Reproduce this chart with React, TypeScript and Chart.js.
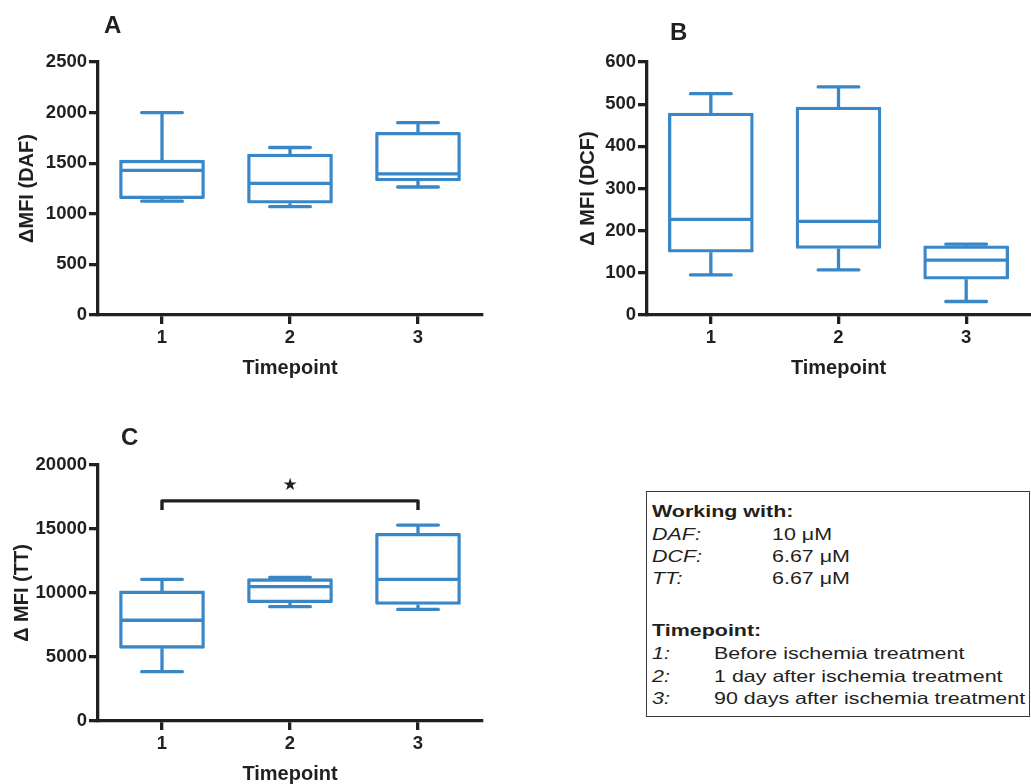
import React, { useEffect, useRef } from 'react';
import { Chart, registerables } from 'chart.js';

Chart.register(...registerables);

const FONT = "Arial, 'Liberation Sans', Helvetica, sans-serif";
const BOX_COLOR = '#3a87c8';
const INK = '#231f20';

const timepoints = ['1', '2', '3'];

// Panel A – ΔMFI (DAF)
const dafMin = [1125, 1070, 1265];
const dafQ1 = [1150, 1105, 1325];
const dafMedian = [1430, 1300, 1395];
const dafQ3 = [1530, 1590, 1805];
const dafMax = [2000, 1655, 1900];
const dafTicks = [0, 500, 1000, 1500, 2000, 2500];

// Panel B – ΔMFI (DCF)
const dcfMin = [95, 107, 32];
const dcfQ1 = [149, 158, 85];
const dcfMedian = [227, 222, 130];
const dcfQ3 = [479, 493, 164];
const dcfMax = [525, 541, 168];
const dcfTicks = [0, 100, 200, 300, 400, 500, 600];

// Panel C – ΔMFI (TT)
const ttMin = [3850, 8930, 8720];
const ttQ1 = [5680, 9250, 9110];
const ttMedian = [7870, 10500, 11070];
const ttQ3 = [10160, 11120, 14660];
const ttMax = [11070, 11220, 15310];
const ttTicks = [0, 5000, 10000, 15000, 20000];

// significance bracket in panel C (timepoint 1 vs 3)
const ttSigFrom = 0;
const ttSigTo = 2;
const ttSigLevel = 17200;
const ttSigFoot = 16480;
const ttSigStarLevel = 18360;
const ttSigLabel = '★';

// legend box text
const workingTitle = 'Working with:';
const probeNames = ['DAF:', 'DCF:', 'TT:'];
const probeConcs = ['10 μM', '6.67 μM', '6.67 μM'];
const timepointTitle = 'Timepoint:';
const timepointKeys = ['1:', '2:', '3:'];
const timepointDescs = [
  'Before ischemia treatment',
  '1 day after ischemia treatment',
  '90 days after ischemia treatment',
];

const LINE_W = 3.3;

const boxWhiskerPlugin = {
  id: 'boxWhisker',
  afterDatasetsDraw(chart: any, _args: any, opts: any) {
    const { ctx } = chart;
    const x = chart.scales.x;
    const y = chart.scales.y;
    const meta = chart.getDatasetMeta(0);
    const lw = LINE_W;
    ctx.save();
    ctx.strokeStyle = BOX_COLOR;
    ctx.lineWidth = lw;
    meta.data.forEach((bar: any, i: number) => {
      const cx = x.getPixelForValue(i);
      const half = bar.width / 2;
      const top = Math.min(bar.y, bar.base);
      const bottom = Math.max(bar.y, bar.base);
      const yMed = y.getPixelForValue(opts.median[i]);
      const yMax = y.getPixelForValue(opts.max[i]);
      const yMin = y.getPixelForValue(opts.min[i]);
      const capHalf = opts.capWidth / 2 - lw / 2;
      ctx.lineCap = 'butt';
      ctx.beginPath();
      ctx.moveTo(cx - half + 1, yMed);
      ctx.lineTo(cx + half - 1, yMed);
      ctx.stroke();
      ctx.beginPath();
      ctx.moveTo(cx, top);
      ctx.lineTo(cx, yMax);
      ctx.moveTo(cx, bottom);
      ctx.lineTo(cx, yMin);
      ctx.stroke();
      ctx.lineCap = 'round';
      ctx.beginPath();
      ctx.moveTo(cx - capHalf, yMax);
      ctx.lineTo(cx + capHalf, yMax);
      ctx.moveTo(cx - capHalf, yMin);
      ctx.lineTo(cx + capHalf, yMin);
      ctx.stroke();
    });
    const b = opts.bracket;
    if (b) {
      const x1 = x.getPixelForValue(b.from);
      const x2 = x.getPixelForValue(b.to);
      const yl = y.getPixelForValue(b.level);
      const yf = y.getPixelForValue(b.foot);
      ctx.strokeStyle = INK;
      ctx.lineWidth = 3.4;
      ctx.lineJoin = 'round';
      ctx.lineCap = 'butt';
      ctx.beginPath();
      ctx.moveTo(x1, yf);
      ctx.lineTo(x1, yl);
      ctx.lineTo(x2, yl);
      ctx.lineTo(x2, yf);
      ctx.stroke();
      ctx.fillStyle = INK;
      ctx.font = "17px 'DejaVu Sans'";
      ctx.textAlign = 'center';
      ctx.textBaseline = 'middle';
      ctx.fillText(b.label, (x1 + x2) / 2, y.getPixelForValue(b.star));
    }
    ctx.restore();
  },
};

type PanelProps = {
  left: number;
  top: number;
  w: number;
  h: number;
  padTop: number;
  padRight: number;
  yAxisWidth: number;
  xAxisHeight: number;
  yTitle: string;
  yTitlePad: number;
  xTitlePad: number;
  ticks: number[];
  min: number[];
  q1: number[];
  median: number[];
  q3: number[];
  max: number[];
  bracket?: any;
};

function makeConfig(p: PanelProps): any {
  const tickFont = { family: FONT, size: 18.5, weight: 'bold' };
  const titleFont = { family: FONT, size: 20, weight: 'bold', lineHeight: 1 };
  return {
    type: 'bar',
    data: {
      labels: timepoints,
      datasets: [
        {
          data: p.q1.map((v, i) => [v, p.q3[i]]),
          backgroundColor: '#ffffff',
          borderColor: BOX_COLOR,
          borderWidth: LINE_W,
          borderSkipped: false,
          borderRadius: 1,
          barThickness: 85,
        },
      ],
    },
    options: {
      responsive: false,
      animation: false,
      devicePixelRatio: 1,
      layout: { padding: { top: p.padTop, right: p.padRight, left: 0, bottom: 0 } },
      plugins: {
        legend: { display: false },
        tooltip: { enabled: false },
        boxWhisker: {
          min: p.min,
          median: p.median,
          max: p.max,
          capWidth: 44,
          bracket: p.bracket,
        },
      },
      scales: {
        x: {
          type: 'category',
          offset: true,
          grid: {
            display: true,
            drawOnChartArea: false,
            drawTicks: true,
            tickLength: 9,
            offset: false,
            color: INK,
            lineWidth: 3.3,
          },
          border: { display: true, color: INK, width: 3.3 },
          ticks: { color: INK, font: tickFont, padding: 3, maxRotation: 0 },
          title: {
            display: true,
            text: 'Timepoint',
            color: INK,
            font: titleFont,
            padding: { top: 0, bottom: p.xTitlePad },
          },
          afterFit: (s: any) => {
            s.height = p.xAxisHeight;
          },
        },
        y: {
          type: 'linear',
          min: p.ticks[0],
          max: p.ticks[p.ticks.length - 1],
          afterBuildTicks: (s: any) => {
            s.ticks = p.ticks.map((v) => ({ value: v }));
          },
          grid: {
            display: true,
            drawOnChartArea: false,
            drawTicks: true,
            tickLength: 9,
            color: INK,
            lineWidth: 3.3,
          },
          border: { display: true, color: INK, width: 3.3 },
          ticks: {
            color: INK,
            font: tickFont,
            padding: 2,
            callback: (v: any) => String(v),
          },
          title: {
            display: true,
            text: p.yTitle,
            color: INK,
            font: titleFont,
            padding: { top: p.yTitlePad, bottom: 0 },
          },
          afterFit: (s: any) => {
            s.width = p.yAxisWidth;
          },
        },
      },
    },
    plugins: [boxWhiskerPlugin],
  };
}

function BoxPanel(props: PanelProps) {
  const ref = useRef<HTMLCanvasElement>(null);
  useEffect(() => {
    const chart = new Chart(ref.current as HTMLCanvasElement, makeConfig(props));
    return () => chart.destroy();
  }, []);
  return (
    <canvas
      ref={ref}
      width={props.w}
      height={props.h}
      style={{ position: 'absolute', left: props.left, top: props.top, width: props.w, height: props.h }}
    />
  );
}

const TEXT_SIZE = 16.5;
const TEXT_STRETCH = 1.3;

function BoxText(props: { x: number; cy: number; text: string; bold?: boolean; italic?: boolean }) {
  return (
    <div
      style={{
        position: 'absolute',
        left: props.x,
        top: props.cy - 9,
        fontFamily: FONT,
        fontSize: TEXT_SIZE,
        lineHeight: '18px',
        whiteSpace: 'nowrap',
        fontWeight: props.bold ? 'bold' : 'normal',
        fontStyle: props.italic ? 'italic' : 'normal',
        color: INK,
        transform: `scaleX(${TEXT_STRETCH})`,
        transformOrigin: 'left center',
      }}
    >
      {props.text}
    </div>
  );
}

function Letter(props: { x: number; cy: number; text: string }) {
  return (
    <div
      style={{
        position: 'absolute',
        left: props.x,
        top: props.cy - 12,
        fontFamily: FONT,
        fontSize: 24,
        lineHeight: '24px',
        fontWeight: 'bold',
        color: INK,
      }}
    >
      {props.text}
    </div>
  );
}

export default function App() {
  const probeY = [534, 556, 578];
  const keyY = [653, 676, 698];
  return (
    <div
      style={{
        position: 'absolute',
        left: 0,
        top: 0,
        width: 1031,
        height: 784,
        overflow: 'hidden',
        background: '#ffffff',
      }}
    >
      <BoxPanel
        left={0}
        top={0}
        w={515}
        h={395}
        padTop={62}
        padRight={33}
        yAxisWidth={98}
        xAxisHeight={80}
        yTitle="ΔMFI (DAF)"
        yTitlePad={17.5}
        xTitlePad={17}
        ticks={dafTicks}
        min={dafMin}
        q1={dafQ1}
        median={dafMedian}
        q3={dafQ3}
        max={dafMax}
      />
      <BoxPanel
        left={520}
        top={0}
        w={511}
        h={395}
        padTop={62}
        padRight={1}
        yAxisWidth={127}
        xAxisHeight={80}
        yTitle="Δ MFI (DCF)"
        yTitlePad={58}
        xTitlePad={17}
        ticks={dcfTicks}
        min={dcfMin}
        q1={dcfQ1}
        median={dcfMedian}
        q3={dcfQ3}
        max={dcfMax}
      />
      <BoxPanel
        left={0}
        top={400}
        w={515}
        h={384}
        padTop={65}
        padRight={33}
        yAxisWidth={98}
        xAxisHeight={63}
        yTitle="Δ MFI (TT)"
        yTitlePad={12}
        xTitlePad={0}
        ticks={ttTicks}
        min={ttMin}
        q1={ttQ1}
        median={ttMedian}
        q3={ttQ3}
        max={ttMax}
        bracket={{
          from: ttSigFrom,
          to: ttSigTo,
          level: ttSigLevel,
          foot: ttSigFoot,
          star: ttSigStarLevel,
          label: ttSigLabel,
        }}
      />
      <Letter x={104} cy={25} text="A" />
      <Letter x={670} cy={32} text="B" />
      <Letter x={121} cy={437} text="C" />
      <div
        style={{
          position: 'absolute',
          left: 646,
          top: 491,
          width: 384,
          height: 226,
          boxSizing: 'border-box',
          border: '1px solid #3a3a3a',
        }}
      />
      <BoxText x={652} cy={511} text={workingTitle} bold />
      {probeNames.map((n, i) => (
        <BoxText key={'pn' + i} x={652} cy={probeY[i]} text={n} italic />
      ))}
      {probeConcs.map((c, i) => (
        <BoxText key={'pc' + i} x={772} cy={probeY[i]} text={c} />
      ))}
      <BoxText x={652} cy={630} text={timepointTitle} bold />
      {timepointKeys.map((k, i) => (
        <BoxText key={'tk' + i} x={652} cy={keyY[i]} text={k} italic />
      ))}
      {timepointDescs.map((d, i) => (
        <BoxText key={'td' + i} x={714} cy={keyY[i]} text={d} />
      ))}
    </div>
  );
}
